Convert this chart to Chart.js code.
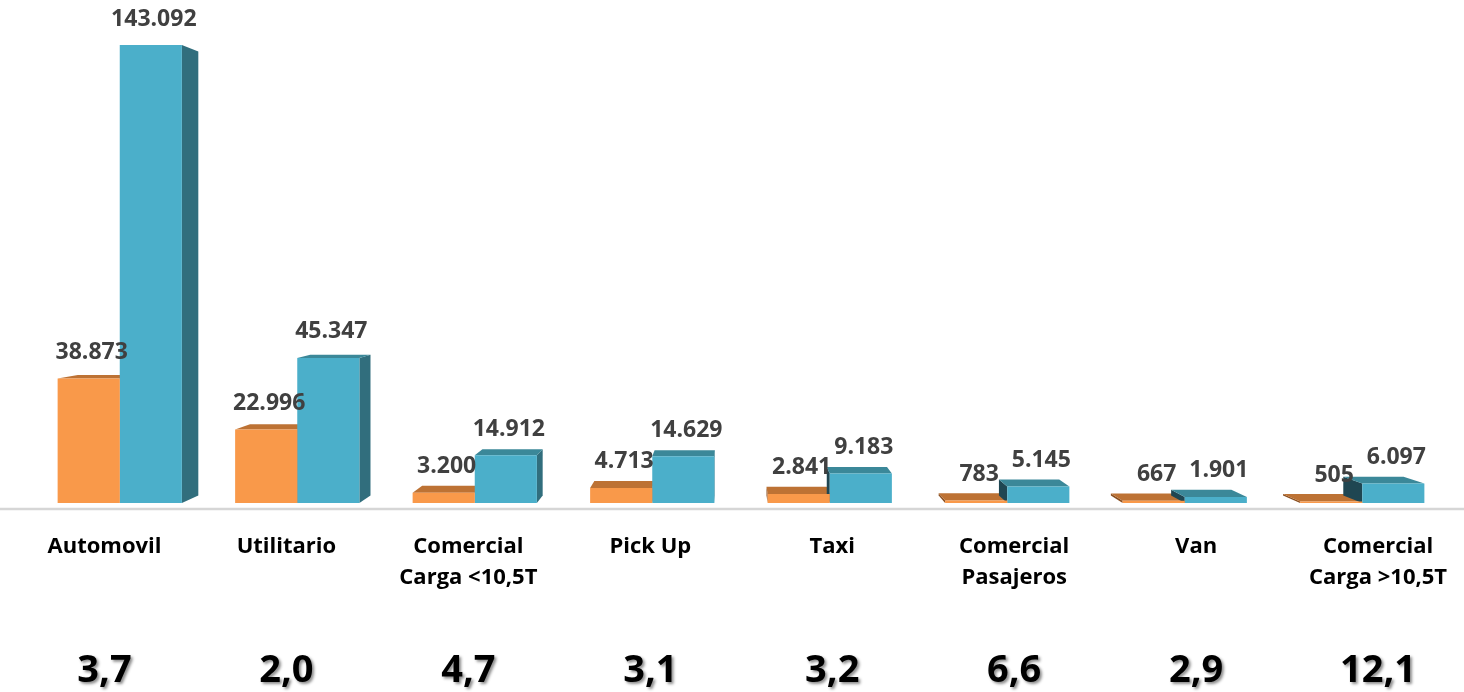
<!DOCTYPE html>
<html><head><meta charset="utf-8">
<script src="https://cdn.jsdelivr.net/npm/chart.js@4/dist/chart.umd.min.js"></script>
<style>html,body{margin:0;padding:0;background:#fff;overflow:hidden}canvas{display:block}</style>
</head><body>
<canvas id="c" width="1464" height="692"></canvas>
<script>
const categories = [["Automovil"],["Utilitario"],["Comercial","Carga <10,5T"],["Pick Up"],["Taxi"],["Comercial","Pasajeros"],["Van"],["Comercial","Carga >10,5T"]];
const seriesA = [38873, 22996, 3200, 4713, 2841, 783, 667, 505];
const seriesB = [143092, 45347, 14912, 14629, 9183, 5145, 1901, 6097];
const ratioLabels = ["3,7","2,0","4,7","3,1","3,2","6,6","2,9","12,1"];
const yMax = 150000;

const FONT = '"Open Sans", "DejaVu Sans", sans-serif';
const VP = {x: 730, y: 255, t: 0.03, labelScale: 1.025};
const faceColors = [
  {front: '#F9994A', top: '#BD7234', right: '#A35F27', left: '#8A4F20'},
  {front: '#4BAFCA', top: '#3B8899', right: '#316E7D', left: '#1F4652'}
];
function fmt(v){ return String(v).replace(/\B(?=(\d{3})+(?!\d))/g, '.'); }
function back(x, y){ return [x + VP.t * (VP.x - x), y + VP.t * (VP.y - y)]; }
function poly(ctx, pts, color){
  ctx.beginPath(); ctx.moveTo(pts[0][0], pts[0][1]);
  for (let i = 1; i < pts.length; i++) ctx.lineTo(pts[i][0], pts[i][1]);
  ctx.closePath(); ctx.fillStyle = color; ctx.fill();
}

const depthPlugin = {
  id: 'depth',
  beforeDatasetsDraw(chart){
    const ctx = chart.ctx;
    const ys = chart.scales.y;
    const base0 = ys.getPixelForValue(0);
    ctx.save();
    ctx.strokeStyle = '#D6D6D6'; ctx.lineWidth = 2.5;
    ctx.beginPath(); ctx.moveTo(0, base0 + 6); ctx.lineTo(chart.width, base0 + 6); ctx.stroke();
    chart.data.datasets.forEach((ds, di) => {
      const meta = chart.getDatasetMeta(di);
      const fc = faceColors[di];
      meta.data.forEach(bar => {
        const p = bar.getProps(['x','y','base','width'], true);
        const x1 = p.x - p.width/2, x2 = p.x + p.width/2, y = p.y, b = p.base;
        if (x2 < VP.x) poly(ctx, [[x2,y],[x2,b],back(x2,b),back(x2,y)], fc.right);
        if (x1 > VP.x) poly(ctx, [[x1,y],[x1,b],back(x1,b),back(x1,y)], fc.left);
        if (y > VP.y) poly(ctx, [[x1,y],[x2,y],back(x2,y),back(x1,y)], fc.top);
      });
    });
    ctx.restore();
  },
  afterDatasetsDraw(chart){
    const ctx = chart.ctx;
    ctx.save();
    ctx.font = 'bold 23px ' + FONT;
    ctx.fillStyle = '#404040';
    ctx.textAlign = 'center'; ctx.textBaseline = 'middle';
    chart.data.datasets.forEach((ds, di) => {
      const meta = chart.getDatasetMeta(di);
      meta.data.forEach((bar, i) => {
        const p = bar.getProps(['x','y'], true);
        ctx.fillText(fmt(ds.data[i]), p.x + 3, p.y - 26);
      });
    });
    ctx.restore();
  },
  afterDraw(chart){
    const ctx = chart.ctx;
    const xs = chart.scales.x, ys = chart.scales.y;
    const base0 = ys.getPixelForValue(0);
    ctx.save();
    ctx.textAlign = 'center'; ctx.textBaseline = 'middle';
    categories.forEach((lines, i) => {
      const cx = VP.x + (xs.getPixelForValue(i) - VP.x) * VP.labelScale;
      ctx.font = 'bold 22px ' + FONT; ctx.fillStyle = '#000';
      lines.forEach((ln, li) => ctx.fillText(ln, cx, base0 + 44 + li * 31));
      ctx.save();
      ctx.font = 'bold 38px ' + FONT;
      ctx.shadowColor = 'rgba(0,0,0,0.45)'; ctx.shadowOffsetX = 2; ctx.shadowOffsetY = 2; ctx.shadowBlur = 3;
      ctx.fillText(ratioLabels[i], cx, base0 + 168);
      ctx.restore();
    });
    ctx.restore();
  }
};

new Chart(document.getElementById('c'), {
  type: 'bar',
  data: {
    labels: categories.map(c => c.join(' ')),
    datasets: [
      {data: seriesA, backgroundColor: faceColors[0].front, borderWidth: 0},
      {data: seriesB, backgroundColor: faceColors[1].front, borderWidth: 0}
    ]
  },
  options: {
    responsive: false, animation: false, devicePixelRatio: 1,
    layout: {padding: {left: 31, right: 13, top: 23, bottom: 189}},
    datasets: {bar: {categoryPercentage: 0.7, barPercentage: 1.0}},
    plugins: {legend: {display: false}, tooltip: {enabled: false}},
    scales: {
      x: {display: false},
      y: {display: false, min: 0, max: yMax}
    }
  },
  plugins: [depthPlugin]
});
</script>
</body></html>
